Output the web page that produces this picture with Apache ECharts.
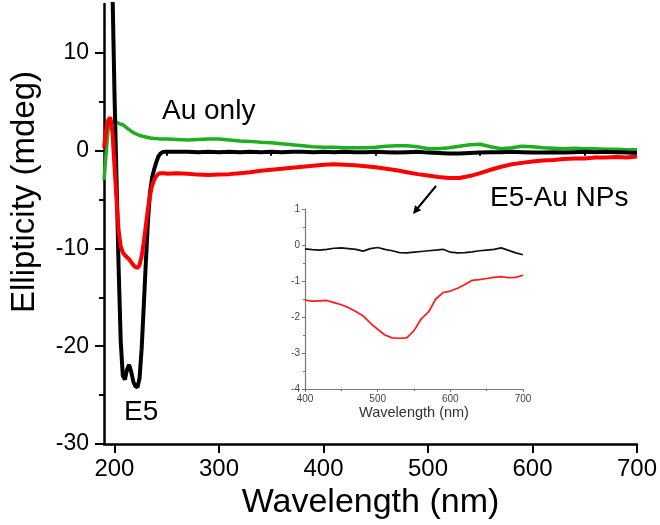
<!DOCTYPE html>
<html>
<head>
<meta charset="utf-8">
<script src="https://cdn.jsdelivr.net/npm/echarts@6/dist/echarts.min.js"></script>
<style>
html,body{margin:0;padding:0;background:#fff;}
#chart{width:660px;height:525px;}
</style>
</head>
<body>
<div id="chart"></div>
<script>
// ---- main chart data ----
const mainWavelength = [190,192,194,196,198,200,202,204,206,208,210,212,214,216,218,220,222,224,226,228,230,232,234,236,238,240,242,244,246,248,250,
  260,270,280,290,300,310,320,330,340,350,360,370,380,390,400,410,420,430,440,450,460,470,480,490,500,510,520,530,540,550,560,570,580,590,600,610,620,630,640,650,660,670,680,690,700];
const e5Values = [70,58,45,30,17,6,-3,-12,-19.5,-23,-23.4,-22.4,-21.9,-22.6,-23.6,-24.1,-24.2,-23.3,-20.3,-16,-11.5,-7.3,-4.3,-2.8,-1.9,-1.2,-0.6,-0.3,-0.15,-0.1,-0.1,
  -0.1,-0.1,-0.15,-0.1,-0.15,-0.1,-0.15,-0.1,-0.15,-0.1,-0.15,-0.1,-0.1,-0.15,-0.1,-0.15,-0.1,-0.15,-0.15,-0.1,-0.15,-0.2,-0.15,-0.1,-0.2,-0.25,-0.3,-0.3,-0.25,-0.2,-0.15,-0.15,-0.1,-0.15,-0.2,-0.2,-0.15,-0.2,-0.15,-0.1,-0.15,-0.1,-0.15,-0.2,-0.25];
const e5AuValues = [0.3,2.0,3.1,3.4,2.0,-1.5,-5.0,-8.2,-9.8,-10.4,-10.7,-10.9,-11.1,-11.4,-11.7,-11.9,-12.0,-11.7,-10.8,-9.4,-7.7,-6.0,-4.6,-3.6,-3.0,-2.6,-2.4,-2.3,-2.3,-2.3,-2.35,
  -2.3,-2.35,-2.45,-2.5,-2.45,-2.4,-2.3,-2.2,-2.05,-1.95,-1.85,-1.75,-1.65,-1.55,-1.45,-1.4,-1.45,-1.5,-1.6,-1.7,-1.85,-2.0,-2.2,-2.4,-2.55,-2.7,-2.8,-2.8,-2.6,-2.3,-1.95,-1.65,-1.4,-1.25,-1.1,-1.0,-0.95,-0.85,-0.8,-0.8,-0.7,-0.7,-0.65,-0.7,-0.6];
const auOnlyValues = [-3.0,-0.3,2.2,2.9,3.0,2.9,2.9,2.8,2.7,2.65,2.5,2.3,2.15,2.0,1.85,1.75,1.65,1.55,1.5,1.45,1.4,1.35,1.3,1.28,1.25,1.25,1.22,1.2,1.2,1.2,1.2,
  1.15,1.1,1.15,1.2,1.2,1.1,1.0,0.95,0.85,0.8,0.7,0.6,0.5,0.4,0.35,0.35,0.3,0.3,0.3,0.35,0.45,0.5,0.5,0.4,0.2,0.2,0.3,0.45,0.6,0.65,0.4,0.2,0.3,0.45,0.4,0.3,0.25,0.2,0.25,0.2,0.2,0.15,0.15,0.1,0.1];
const mainXTicks = [200,300,400,500,600,700];
const mainXMinorTicks = [250,350,450,550,650];
const mainYTicks = [-30,-20,-10,0,10];
const mainYMinorTicks = [-25,-15,-5,5];

// ---- inset data ----
const insetWavelength = [400,410,420,430,440,450,460,470,480,490,500,510,520,530,540,550,560,570,580,590,600,610,620,630,640,650,660,670,680,690,700];
const insetE5 = [-0.11,-0.13,-0.14,-0.12,-0.09,-0.08,-0.1,-0.12,-0.17,-0.1,-0.07,-0.12,-0.16,-0.21,-0.22,-0.2,-0.18,-0.16,-0.14,-0.12,-0.2,-0.22,-0.21,-0.19,-0.16,-0.14,-0.12,-0.08,-0.15,-0.22,-0.27];
const insetE5Au = [-1.53,-1.56,-1.55,-1.54,-1.6,-1.66,-1.74,-1.85,-1.97,-2.17,-2.34,-2.5,-2.58,-2.59,-2.58,-2.38,-2.05,-1.86,-1.5,-1.32,-1.28,-1.2,-1.1,-0.98,-0.96,-0.93,-0.9,-0.88,-0.91,-0.9,-0.84];

const pairs = (xs, ys) => xs.map((x, i) => [x, ys[i]]);
const FONT = 'Liberation Sans, Arial, Helvetica, sans-serif';

const chart = echarts.init(document.getElementById('chart'));
chart.setOption({
  animation: false,
  backgroundColor: '#fff',
  grid: [
    {left: 101, right: 23, top: 4, bottom: 81, containLabel: false},
    {left: 305, top: 209, width: 218, height: 180, containLabel: false}
  ],
  xAxis: [
    {gridIndex: 0, type: 'value', position: 'bottom', min: 190, max: 700,
     name: 'Wavelength (nm)', nameLocation: 'middle', nameGap: 40,
     nameTextStyle: {fontSize: 34, fontFamily: FONT, color: '#000'},
     axisLine: {onZero: false, lineStyle: {color: '#000', width: 2.5}},
     axisTick: {length: 9, lineStyle: {color: '#000', width: 2}, customValues: mainXTicks},
     axisLabel: {fontSize: 24, fontFamily: FONT, color: '#000', margin: 13, customValues: mainXTicks},
     splitLine: {show: false}},
    {gridIndex: 0, type: 'value', position: 'bottom', min: 190, max: 700,
     axisLine: {show: false},
     axisTick: {length: 5, lineStyle: {color: '#000', width: 2}, customValues: mainXMinorTicks},
     axisLabel: {show: false}, splitLine: {show: false}},
    {gridIndex: 1, type: 'value', min: 400, max: 700, interval: 100,
     name: 'Wavelength (nm)', nameLocation: 'middle', nameGap: 16,
     nameTextStyle: {fontSize: 14.5, fontFamily: FONT, color: '#333'},
     axisLine: {onZero: false, lineStyle: {color: '#777', width: 1.2}},
     axisTick: {length: 3, lineStyle: {color: '#777'}},
     minorTick: {show: true, splitNumber: 2, length: 2, lineStyle: {color: '#777'}},
     axisLabel: {fontSize: 10, fontFamily: FONT, color: '#444', margin: 5},
     splitLine: {show: false}, minorSplitLine: {show: false}}
  ],
  yAxis: [
    {gridIndex: 0, type: 'value', position: 'left', min: -30, max: 15,
     name: 'Ellipticity (mdeg)', nameLocation: 'middle', nameGap: 63,
     nameTextStyle: {fontSize: 33, fontFamily: FONT, color: '#000', padding: [0, 0, 0, 64]},
     axisLine: {onZero: false, lineStyle: {color: '#000', width: 2.5}},
     axisTick: {length: 9, lineStyle: {color: '#000', width: 2}, customValues: mainYTicks},
     axisLabel: {fontSize: 23, fontFamily: FONT, color: '#000', margin: 15, customValues: mainYTicks},
     splitLine: {show: false}},
    {gridIndex: 0, type: 'value', position: 'left', min: -30, max: 15,
     axisLine: {show: false},
     axisTick: {length: 5, lineStyle: {color: '#000', width: 2}, customValues: mainYMinorTicks},
     axisLabel: {show: false}, splitLine: {show: false}},
    {gridIndex: 1, type: 'value', min: -4, max: 1, interval: 1,
     axisLine: {onZero: false, lineStyle: {color: '#777', width: 1.2}},
     axisTick: {length: 3, lineStyle: {color: '#777'}},
     minorTick: {show: true, splitNumber: 2, length: 2, lineStyle: {color: '#777'}},
     axisLabel: {fontSize: 10, fontFamily: FONT, color: '#444', margin: 5},
     splitLine: {show: false}, minorSplitLine: {show: false}}
  ],
  series: [
    {name: 'Au only', type: 'line', xAxisIndex: 0, yAxisIndex: 0, data: pairs(mainWavelength, auOnlyValues),
     showSymbol: false, clip: true, lineStyle: {color: '#1fae1f', width: 3.5}},
    {name: 'E5', type: 'line', xAxisIndex: 0, yAxisIndex: 0, data: pairs(mainWavelength, e5Values),
     showSymbol: false, clip: true, lineStyle: {color: '#000', width: 4}},
    {name: 'E5-Au NPs', type: 'line', xAxisIndex: 0, yAxisIndex: 0, data: pairs(mainWavelength, e5AuValues),
     showSymbol: false, clip: true, lineStyle: {color: '#ff0000', width: 4}},
    {name: 'E5 (inset)', type: 'line', xAxisIndex: 2, yAxisIndex: 2, data: pairs(insetWavelength, insetE5),
     showSymbol: false, lineStyle: {color: '#111', width: 1.7}},
    {name: 'E5-Au NPs (inset)', type: 'line', xAxisIndex: 2, yAxisIndex: 2, data: pairs(insetWavelength, insetE5Au),
     showSymbol: false, lineStyle: {color: '#ff1a1a', width: 1.7}}
  ],
  graphic: [
    {type: 'text', x: 162, y: 111, style: {text: 'Au only', font: '28px ' + FONT, fill: '#000', textVerticalAlign: 'middle'}},
    {type: 'text', x: 490, y: 198, style: {text: 'E5-Au NPs', font: '28px ' + FONT, fill: '#000', textVerticalAlign: 'middle'}},
    {type: 'text', x: 124, y: 412, style: {text: 'E5', font: '28px ' + FONT, fill: '#000', textVerticalAlign: 'middle'}},
    {type: 'line', shape: {x1: 436, y1: 186, x2: 417, y2: 209}, style: {stroke: '#000', lineWidth: 2}},
    {type: 'polygon', shape: {points: [[413, 214], [421.2, 210.3], [415, 205.3]]}, style: {fill: '#000'}}
  ]
});
</script>
</body>
</html>
